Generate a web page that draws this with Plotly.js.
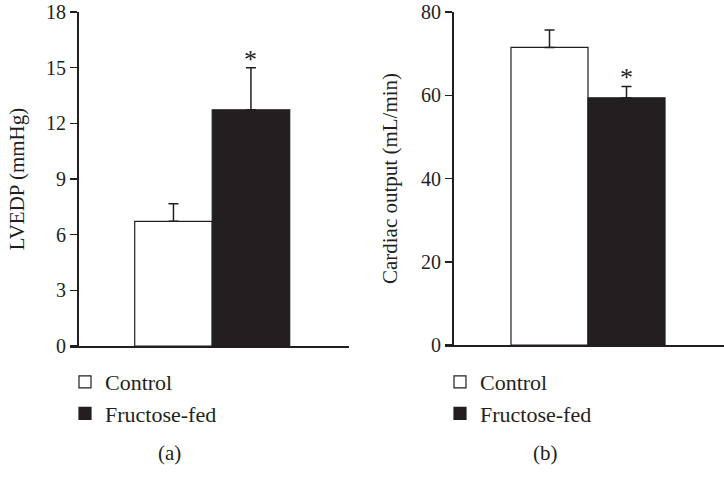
<!DOCTYPE html>
<html>
<head>
<meta charset="utf-8">
<script src="https://cdn.plot.ly/plotly-3.0.1.min.js"></script>
<style>html,body{margin:0;padding:0;background:#fff;}#chart{width:724px;height:483px;}</style>
</head>
<body>
<div id="chart"></div>
<script>
// Data
const groups = ["Control", "Fructose-fed"];
const lvedpMean = [6.72, 12.73];
const lvedpErr = [0.95, 2.27];
const coMean = [71.5, 59.4];
const coErr = [4.2, 2.7];
const lvedpTicks = [0, 3, 6, 9, 12, 15, 18];
const coTicks = [0, 20, 40, 60, 80];
const sigMark = ["", "*"];
const panelLabels = ["(a)", "(b)"];

const barColors = ["#ffffff", "#231f20"];
const ink = "#231f20";
const FONT = "Liberation Serif, Times New Roman, serif";
const W = 724, H = 483;
const px = v => v / W;
const py = v => (H - v) / H;

const traces = [];
groups.forEach((g, i) => {
  traces.push({
    type: "bar", x: [i], y: [lvedpMean[i]], name: g, width: 1,
    marker: {color: barColors[i], line: {color: ink, width: 1.2}},
    error_y: {type: "data", symmetric: false, array: [lvedpErr[i]], arrayminus: [0], color: ink, thickness: 1.5, width: 5},
    xaxis: "x", yaxis: "y", legend: "legend", hoverinfo: "skip"
  });
});
groups.forEach((g, i) => {
  traces.push({
    type: "bar", x: [i], y: [coMean[i]], name: g, width: 1,
    marker: {color: barColors[i], line: {color: ink, width: 1.2}},
    error_y: {type: "data", symmetric: false, array: [coErr[i]], arrayminus: [0], color: ink, thickness: 1.5, width: 5},
    xaxis: "x2", yaxis: "y2", legend: "legend2", hoverinfo: "skip"
  });
});

const starFont = {family: FONT, size: 26, color: ink};
const annotations = [];
groups.forEach((g, i) => {
  if (sigMark[i]) {
    annotations.push({xref: "x", yref: "y", x: i, y: lvedpMean[i] + lvedpErr[i], text: sigMark[i], showarrow: false, yanchor: "bottom", yshift: -8, font: starFont});
    annotations.push({xref: "x2", yref: "y2", x: i, y: coMean[i] + coErr[i], text: sigMark[i], showarrow: false, yanchor: "bottom", yshift: -7, font: starFont});
  }
});
const capFont = {family: FONT, size: 21, color: ink};
annotations.push({xref: "paper", yref: "paper", x: px(169), y: py(453), text: panelLabels[0], showarrow: false, xanchor: "center", yanchor: "middle", font: capFont});
annotations.push({xref: "paper", yref: "paper", x: px(545), y: py(453), text: panelLabels[1], showarrow: false, xanchor: "center", yanchor: "middle", font: capFont});

const tickFont = {family: FONT, size: 20, color: ink};
const titleFont = {family: FONT, size: 21, color: ink};
const legFont = {family: FONT, size: 22, color: ink};
const layout = {
  width: W, height: H,
  margin: {l: 0, r: 0, t: 0, b: 0},
  paper_bgcolor: "#fff", plot_bgcolor: "#fff",
  showlegend: true,
  font: {family: FONT, size: 21, color: ink},
  bargap: 0,
  xaxis: {domain: [px(70), px(349)], range: [-1.335, 2.265], showline: true, linecolor: ink, linewidth: 1.5, showticklabels: false, ticks: "", showgrid: false, zeroline: false, anchor: "y", fixedrange: true},
  yaxis: {domain: [py(346), py(12)], range: [0, 18], tickvals: lvedpTicks, ticktext: lvedpTicks.map(String), ticks: "outside", ticklen: 7, tickwidth: 1.5, tickcolor: ink, showline: true, linecolor: ink, linewidth: 1.5, showgrid: false, zeroline: false, anchor: "free", position: px(77), tickfont: tickFont, ticklabeloverflow: "allow", title: {text: "LVEDP (mmHg)", font: titleFont, standoff: 14}, fixedrange: true},
  xaxis2: {domain: [px(445), px(724)], range: [-1.357, 2.266], showline: true, linecolor: ink, linewidth: 1.5, showticklabels: false, ticks: "", showgrid: false, zeroline: false, anchor: "y2", fixedrange: true},
  yaxis2: {domain: [py(345), py(12)], range: [0, 80], tickvals: coTicks, ticktext: coTicks.map(String), ticks: "outside", ticklen: 7, tickwidth: 1.5, tickcolor: ink, showline: true, linecolor: ink, linewidth: 1.5, showgrid: false, zeroline: false, anchor: "free", position: px(452), tickfont: tickFont, ticklabeloverflow: "allow", title: {text: "Cardiac output (mL/min)", font: titleFont, standoff: 16}, fixedrange: true},
  legend: {x: px(65), y: py(361), xanchor: "left", yanchor: "top", bgcolor: "rgba(0,0,0,0)", borderwidth: 0, font: legFont, itemclick: false, itemdoubleclick: false},
  legend2: {x: px(440), y: py(361), xanchor: "left", yanchor: "top", bgcolor: "rgba(0,0,0,0)", borderwidth: 0, font: legFont, itemclick: false, itemdoubleclick: false},
  annotations: annotations
};

Plotly.newPlot("chart", traces, layout, {displayModeBar: false, staticPlot: true});
</script>
</body>
</html>
